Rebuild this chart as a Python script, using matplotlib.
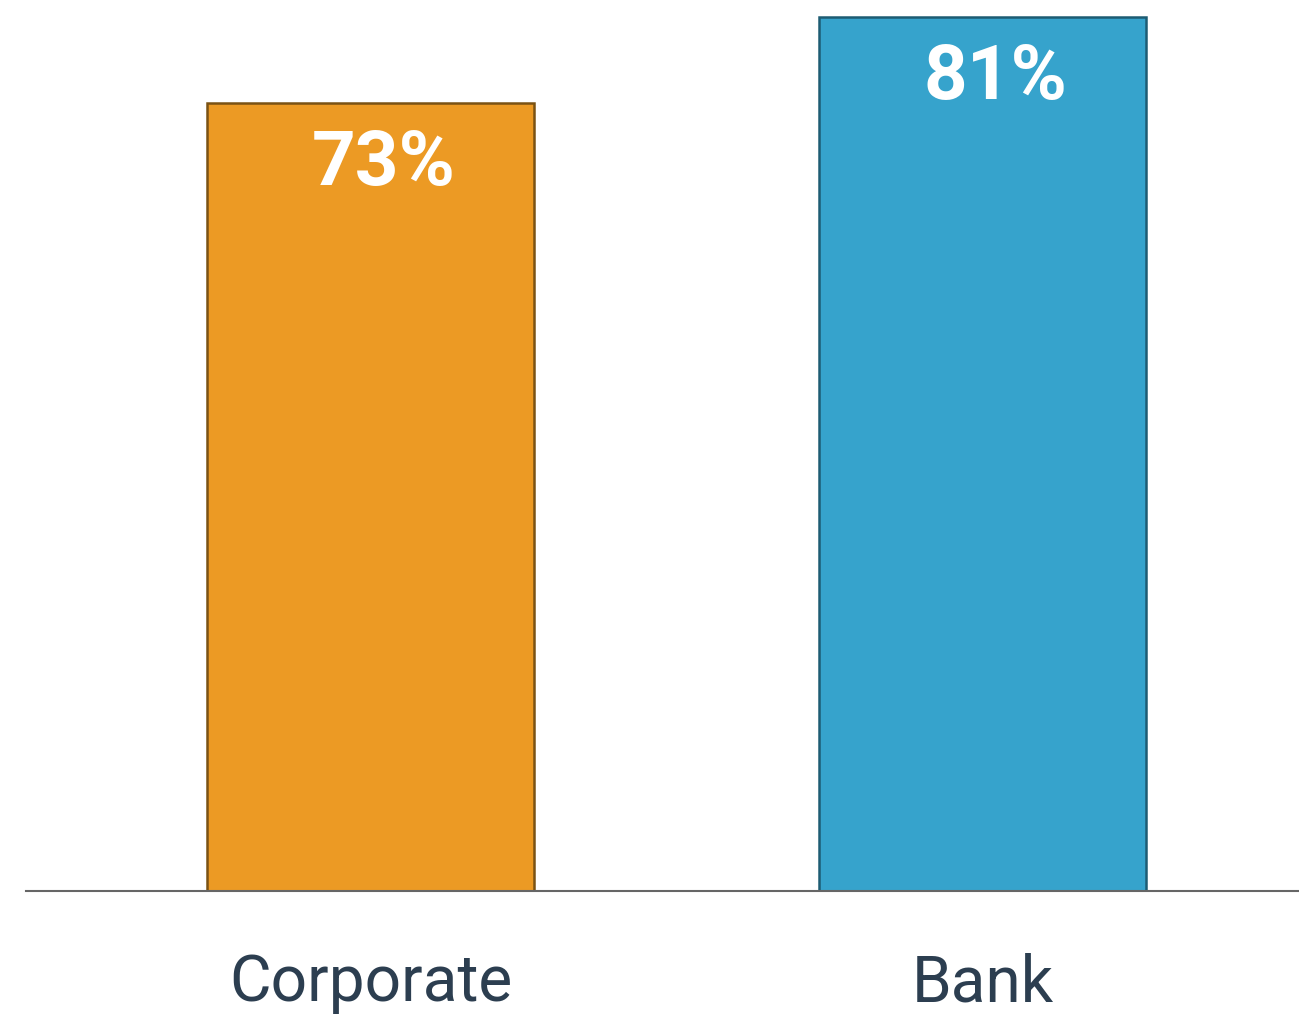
import matplotlib
matplotlib.use("Agg")
import matplotlib.pyplot as plt

categories = ["Corporate", "Bank"]
shares = [73, 81]
labels = ["73%", "81%"]

FILLS = ["#EC9A24", "#36A3CC"]
EDGES = ["#7A5214", "#1D5C73"]
INK = "#2C3E50"

plt.rcParams["font.family"] = "Roboto"

fig = plt.figure(figsize=(12.99, 10.15), dpi=100)
ax = fig.add_axes([0.02, 0.1222, 0.98, 0.8778])

x = list(range(len(categories)))
ax.bar(x, shares, width=0.534, color=FILLS, edgecolor=EDGES, linewidth=1.8, zorder=2)

# value labels sit just inside the top of each bar
for xi, v, lab in zip(x, shares, labels):
    ax.text(xi + 0.021, v - 5.7, lab, ha="center", va="center", color="white",
            fontsize=55, fontweight="bold", zorder=3)

ax.set_xlim(-0.5624, 1.516)
ax.set_ylim(0, 82.58)
ax.set_xticks(x)
ax.set_xticklabels(categories, fontsize=46, color=INK)
ax.tick_params(axis="x", length=0, pad=44)
ax.set_yticks([])
for s in ("top", "right", "left"):
    ax.spines[s].set_visible(False)
ax.spines["bottom"].set_color("#666666")
ax.spines["bottom"].set_linewidth(1.5)

fig.savefig("out.png", dpi=100, facecolor="white")
